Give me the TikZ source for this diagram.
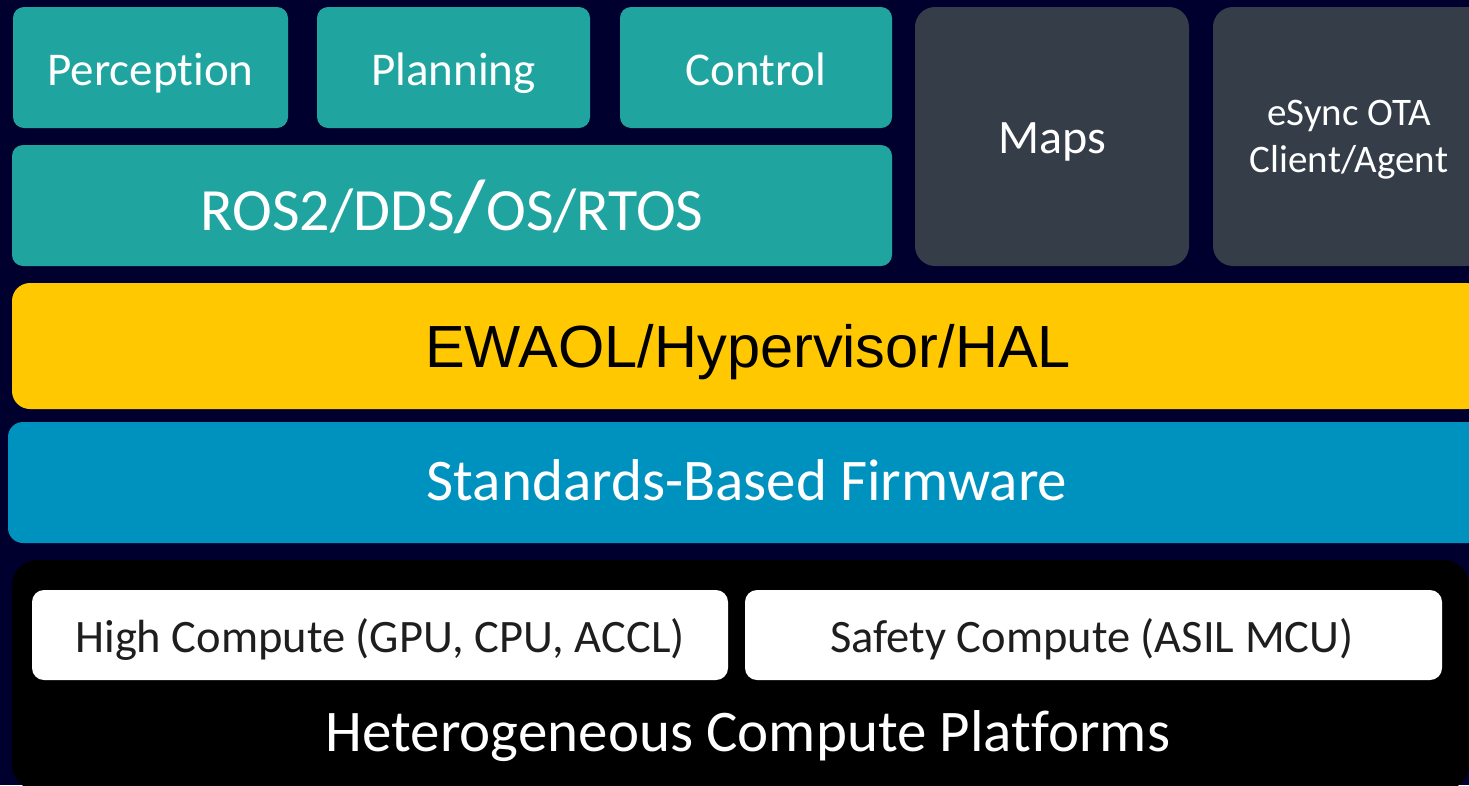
\documentclass[tikz,border=0pt]{standalone}
\usepackage{fontspec}
\setmainfont{Carlito}[Ligatures={NoCommon}]
\newfontfamily\arialf{Liberation Sans}
\definecolor{bgnavy}{RGB}{0,0,46}
\definecolor{tealbox}{RGB}{32,164,160}
\definecolor{graybox}{RGB}{53,62,72}
\definecolor{yellowbox}{RGB}{255,200,0}
\definecolor{bluebox}{RGB}{0,146,191}
\definecolor{darktext}{RGB}{30,30,30}
\newcommand{\fs}[1]{\fontsize{#1}{#1}\selectfont}
\tikzset{
  box/.style={rectangle, inner sep=0pt, outer sep=0pt, draw=none},
  lbl/.style={anchor=base, inner sep=0pt, text=white},
}
\begin{document}
\begin{tikzpicture}[x=1pt,y=-1pt]
\useasboundingbox (0,0) rectangle (1469,785);
\clip (0,0) rectangle (1469,785);
\fill[bgnavy] (0,0) rectangle (1469,785);

% top row teal
\node[box, fill=tealbox, rounded corners=11pt, minimum width=275pt, minimum height=121pt] (perc) at (150.5,67.5) {};
\node[box, fill=tealbox, rounded corners=11pt, minimum width=273pt, minimum height=121pt] (plan) at (453.5,67.5) {};
\node[box, fill=tealbox, rounded corners=11pt, minimum width=272pt, minimum height=121pt] (ctrl) at (756,67.5) {};
\node[box, fill=tealbox, rounded corners=11pt, minimum width=880pt, minimum height=121pt] (ros) at (452,205.5) {};
% gray
\node[box, fill=graybox, rounded corners=20pt, minimum width=274pt, minimum height=259pt] (maps) at (1052,136.5) {};
\node[box, fill=graybox, rounded corners=20pt, minimum width=274pt, minimum height=259pt] (esync) at (1350,136.5) {};
% bands
\node[box, fill=yellowbox, rounded corners=18pt, minimum width=1472pt, minimum height=126pt] (ewaol) at (748,346) {};
\node[box, fill=bluebox, rounded corners=15pt, minimum width=1480pt, minimum height=121pt] (fw) at (748,482.5) {};
\node[box, fill=black, rounded corners=25pt, minimum width=1457pt, minimum height=230pt] (hw) at (740.5,675) {};
\node[box, fill=white, rounded corners=12pt, minimum width=696pt, minimum height=90pt] (hic) at (380,635) {};
\node[box, fill=white, rounded corners=12pt, minimum width=697pt, minimum height=90pt] (sfc) at (1093.5,635) {};

% labels
\node[lbl] (percT) at (150.5,85) {\fs{47}Perception};
\node[lbl] (planT) at (453.5,85) {\fs{47}Planning};
\node[lbl] (ctrlT) at (756,85) {\fs{47}Control};
\node[lbl] (rosT) at (452,230) {\fs{60}ROS2/DDS\textbf{\fontsize{72}{72}\selectfont/}OS/RTOS};
\node[lbl] (mapsT) at (1052,153) {\fs{48}Maps};
\node[lbl] (esyncT1) at (1349,125) {\fs{39}eSync OTA};
\node[lbl] (esyncT2) at (1349,172) {\fs{39}Client/Agent};
\node[lbl, text=black] (ewaolT) at (748,367) {\arialf\fs{59.5}EWAOL/Hypervisor/HAL};
\node[lbl] (fwT) at (747,500) {\fs{59}Standards-Based Firmware};
\node[lbl, text=darktext] (hicT) at (380,652) {\fs{46.5}High Compute (GPU, CPU, ACCL)};
\node[lbl, text=darktext] (sfcT) at (1092,652) {\fs{46.5}Safety Compute (ASIL MCU)};
\node[lbl] (hwT) at (748,751) {\fs{59}Heterogeneous Compute Platforms};
\end{tikzpicture}
\end{document}
